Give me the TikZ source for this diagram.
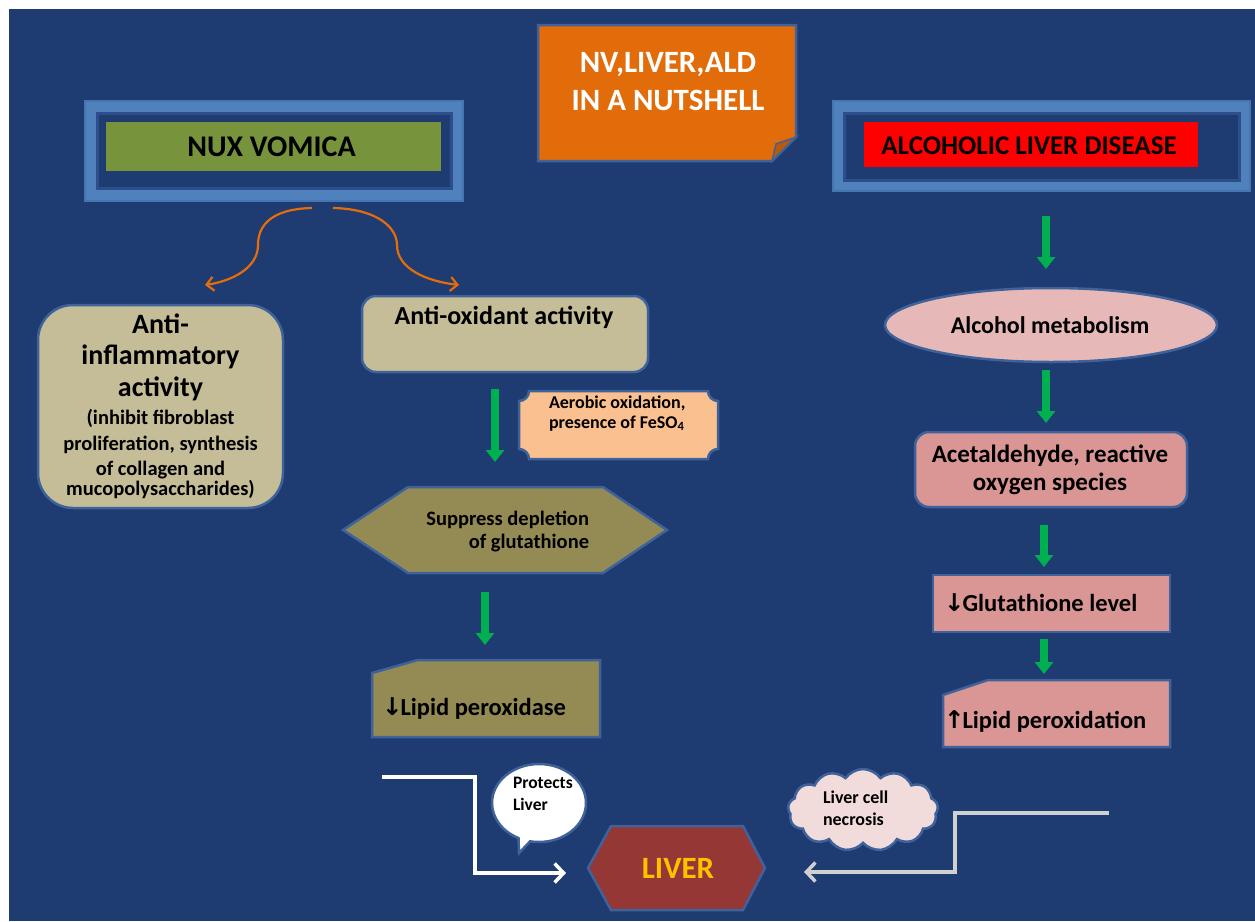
\documentclass[tikz,border=0pt]{standalone}
\usepackage{fontspec}
\setmainfont{Carlito}
\newfontfamily\arrowfont{DejaVu Sans}
\usetikzlibrary{shapes.geometric,shapes.symbols,shapes.callouts,arrows.meta}
\definecolor{bgblue}{HTML}{1F3C72}
\definecolor{framelight}{HTML}{4F81BD}
\definecolor{frameedge}{HTML}{4676B2}
\definecolor{framedark}{HTML}{2C4E8A}
\definecolor{edgeblue}{HTML}{3E6299}
\definecolor{nvgreen}{HTML}{77933C}
\definecolor{aldred}{HTML}{FF0000}
\definecolor{titleorange}{HTML}{E36C0A}
\definecolor{foldorange}{HTML}{B85A0A}
\definecolor{tan}{HTML}{C4BD97}
\definecolor{peach}{HTML}{FAC090}
\definecolor{olive}{HTML}{948A54}
\definecolor{pinklight}{HTML}{E6B9B8}
\definecolor{pinkbox}{HTML}{D99694}
\definecolor{liverred}{HTML}{953735}
\definecolor{gold}{HTML}{FFC000}
\definecolor{arrowgreen}{HTML}{00B050}
\definecolor{curveorange}{HTML}{E46C0A}
\definecolor{cloudpink}{HTML}{F2DCDB}
\definecolor{greyline}{HTML}{D0D0D0}
\newcommand\tightsp{\spaceskip=\fontdimen2\font\xspaceskip=\fontdimen2\font\relax}
\newcommand\setfs[2]{\fontsize{#1}{#2}\selectfont\tightsp}
\newcommand\dnarrow{{\arrowfont\bfseries ↓}\kern-2pt}
\newcommand\uparrowsym{{\arrowfont\bfseries ↑}\kern-2pt}
\tikzset{
  frameout/.style={draw=frameedge, line width=1.5pt, fill=framelight, inner sep=0pt},
  framein/.style={draw=framedark, line width=3pt, fill=bgblue, inner sep=0pt},
  shapeedge/.style={draw=edgeblue, line width=2.5pt},
  blank/.style={inner sep=0pt, outer sep=0pt},
  txt/.style={inner sep=0pt, outer sep=0pt, text=black},
  garrow/.style={draw=arrowgreen, line width=8pt, -{Triangle[length=12pt,width=18pt]}},
  curvearrow/.style={draw=curveorange, line width=2.2pt, -{Straight Barb[length=7pt,width=14pt]}},
  whitearrow/.style={draw=white, line width=3.5pt, -{Straight Barb[length=9pt,width=19pt]}},
  greyarrow/.style={draw=greyline, line width=3.5pt, -{Straight Barb[length=9pt,width=19pt]}},
}
\begin{document}
\begin{tikzpicture}[x=1pt,y=-1pt]
\useasboundingbox (0,0) rectangle (1255,921);
\fill[white] (0,0) rectangle (1255,921);
\fill[bgblue] (9,9) rectangle (1255,921);

% ---------- NUX VOMICA frame
\node[frameout, minimum width=378, minimum height=100] (nvframe) at (274,151) {};
\node[framein, minimum width=354, minimum height=75] (nvinner) at (274,150.5) {};
\node[blank, fill=nvgreen, minimum width=335, minimum height=49] (nv) at (273.5,146.5) {};
\node[txt, font=\bfseries\setfs{30}{36}, anchor=base] (nvtxt) at (271.5,156) {NUX VOMICA};

% ---------- ALD frame
\node[frameout, minimum width=417, minimum height=90] (aldframe) at (1041.5,146) {};
\node[framein, minimum width=395, minimum height=67] (aldinner) at (1041.5,146.5) {};
\node[blank, fill=aldred, minimum width=334, minimum height=45] (ald) at (1031,144.5) {};
\node[txt, font=\bfseries\setfs{27}{32}, anchor=base] (aldtxt) at (1029,154) {ALCOHOLIC LIVER DISEASE};

% ---------- title note
\draw[draw=edgeblue, line width=2.5pt, fill=titleorange]
  (538,25) -- (796,25) -- (796,137) -- (772,161) -- (538,161) -- cycle;
\draw[draw=edgeblue, line width=1.5pt, fill=foldorange]
  (796,137) -- (776,144) -- (772,161) -- cycle;
\node[txt, text=white, font=\bfseries\setfs{31}{38}, text width=250pt, align=flush center, anchor=base] (title) at (668,72)
  {\tightsp NV,LIVER,ALD\\IN A NUTSHELL};

% ---------- curved orange arrows
\coordinate (cl) at (312,208);
\coordinate (cr) at (333,208);
\coordinate (infltop) at (205,285);
\coordinate (antitop) at (459,285);
\draw[curvearrow] (cl) .. controls (268,209) and (258,228) .. (258,245) .. controls (258,268) and (232,281) .. (infltop);
\draw[curvearrow] (cr) .. controls (378,209) and (397,228) .. (397,245) .. controls (397,268) and (425,281) .. (antitop);

% ---------- left column
\node[shapeedge, fill=tan, rounded corners=35pt, minimum width=245, minimum height=203, blank] (infl) at (160.5,406.5) {};
\node[txt, font=\bfseries, text width=240pt, align=flush center, anchor=base] (infltxt) at (160.5,333)
  {\setfs{28}{31.5}Anti-\\inflammatory\\activity\par\vspace{3pt}\setfs{20.5}{25.5}(inhibit fibroblast\\proliferation, synthesis\\of collagen and\\mucopolysaccharides)};

\node[shapeedge, fill=tan, rounded corners=14pt, minimum width=286, minimum height=76, blank] (anti) at (505,334) {};
\node[txt, font=\bfseries\setfs{26}{30}, anchor=base] (antitxt) at (504,324) {Anti-oxidant activity};

\node[blank, minimum width=199, minimum height=68] (aer) at (618.5,425) {};
\draw[shapeedge, fill=peach]
  (529,391) -- (708,391) .. controls (708,396.5) and (712.5,401) .. (718,401)
  -- (718,449) .. controls (712.5,449) and (708,453.5) .. (708,459)
  -- (529,459) .. controls (529,453.5) and (524.5,449) .. (519,449)
  -- (519,401) .. controls (524.5,401) and (529,396.5) .. (529,391) -- cycle;
\node[txt, font=\bfseries\setfs{18}{20}, text width=170pt, align=flush left, anchor=base west] (aertxt) at (549,408)
  {\tightsp Aerobic oxidation,\\presence of FeSO\textsubscript{4}};

\coordinate (g1a) at (495,389);
\coordinate (g1b) at (495,462);
\draw[garrow] (g1a) -- (g1b);

\node[blank, minimum width=324, minimum height=86] (supp) at (505,530) {};
\draw[shapeedge, fill=olive] (supp.west) -- ([xshift=65pt]supp.north west) -- ([xshift=-64pt]supp.north east)
  -- (supp.east) -- ([xshift=-64pt]supp.south east) -- ([xshift=65pt]supp.south west) -- cycle;
\node[txt, font=\bfseries\setfs{20.5}{23}, text width=200pt, align=flush right, anchor=base east] (supptxt) at (589,525)
  {\tightsp Suppress depletion\\of glutathione};

\coordinate (g2a) at (485,592);
\coordinate (g2b) at (485,645);
\draw[garrow] (g2a) -- (g2b);

\node[blank, minimum width=228, minimum height=77] (lipd) at (486,698.5) {};
\draw[shapeedge, fill=olive] ([shift={(0,13)}]lipd.north west) -- ([shift={(46,0)}]lipd.north west)
  -- (lipd.north east) -- (lipd.south east) -- (lipd.south west) -- cycle;
\node[txt, font=\bfseries\setfs{24.5}{28}, anchor=base west] (lipdtxt) at (382,715)
  {\dnarrow Lipid peroxidase};

% ---------- right column
\coordinate (r1a) at (1046,216);
\coordinate (r1b) at (1046,269);
\draw[garrow] (r1a) -- (r1b);

\node[ellipse, shapeedge, fill=pinklight, minimum width=332, minimum height=74, blank] (alc) at (1051,325) {};
\node[txt, font=\bfseries\setfs{24}{28}, anchor=base] (alctxt) at (1050,333) {Alcohol metabolism};

\coordinate (r2a) at (1046,370);
\coordinate (r2b) at (1046,423);
\draw[garrow] (r2a) -- (r2b);

\node[shapeedge, fill=pinkbox, rounded corners=14pt, minimum width=272, minimum height=75, blank] (acet) at (1051,469.5) {};
\node[txt, font=\bfseries\setfs{25}{28}, text width=260pt, align=flush center, anchor=base] (acettxt) at (1050,462)
  {\tightsp Acetaldehyde, reactive\\oxygen species};

\coordinate (r3a) at (1044,525);
\coordinate (r3b) at (1044,567);
\draw[garrow] (r3a) -- (r3b);

\node[shapeedge, fill=pinkbox, minimum width=237, minimum height=57, blank] (glut) at (1051.5,603.5) {};
\node[txt, font=\bfseries\setfs{24.5}{28}, anchor=base west] (gluttxt) at (944,611)
  {\dnarrow Glutathione level};

\coordinate (r4a) at (1044,639);
\coordinate (r4b) at (1044,674);
\draw[garrow] (r4a) -- (r4b);

\node[blank, minimum width=227, minimum height=67] (lipx) at (1056.5,713.5) {};
\draw[shapeedge, fill=pinkbox] ([shift={(0,15)}]lipx.north west) -- ([shift={(45,0)}]lipx.north west)
  -- (lipx.north east) -- (lipx.south east) -- (lipx.south west) -- cycle;
\node[txt, font=\bfseries\setfs{24.5}{28}, anchor=base west] (lipxtxt) at (944,728)
  {\uparrowsym Lipid peroxidation};

% ---------- bottom
\node[blank, minimum width=177, minimum height=84] (liver) at (676.5,868) {};
\draw[shapeedge, fill=liverred] (liver.west) -- ([xshift=23pt]liver.north west) -- ([xshift=-22pt]liver.north east)
  -- (liver.east) -- ([xshift=-22pt]liver.south east) -- ([xshift=23pt]liver.south west) -- cycle;
\node[txt, text=gold, font=\bfseries\setfs{31}{36}, anchor=base] (livertxt) at (678,878) {LIVER};

\node[ellipse callout, shapeedge, fill=white, minimum width=94, minimum height=78, blank,
  callout absolute pointer={(519,853)}] (protect) at (539,803) {};
\node[txt, font=\bfseries\setfs{17.5}{22}, text width=80pt, align=flush left, anchor=base west] (protecttxt) at (513,788)
  {\tightsp Protects\\Liver};

\node[cloud, cloud puffs=13, cloud puff arc=110, aspect=1.8, shapeedge, fill=cloudpink,
  minimum width=150, minimum height=82, blank] (necro) at (863,810) {};
\node[txt, font=\bfseries\setfs{18}{22}, text width=80pt, align=flush left, anchor=base west] (necrotxt) at (823,803)
  {\tightsp Liver cell\\necrosis};

\coordinate (wstart) at (382,777);
\draw[whitearrow] (wstart) -- (475,777) -- (475,873) -- ([shift={(-22,5)}]liver.west);
\coordinate (gstart) at (1109,813);
\draw[greyarrow] (gstart) -- (955,813) -- (955,872) -- ([shift={(39,4)}]liver.east);
\end{tikzpicture}
\end{document}
